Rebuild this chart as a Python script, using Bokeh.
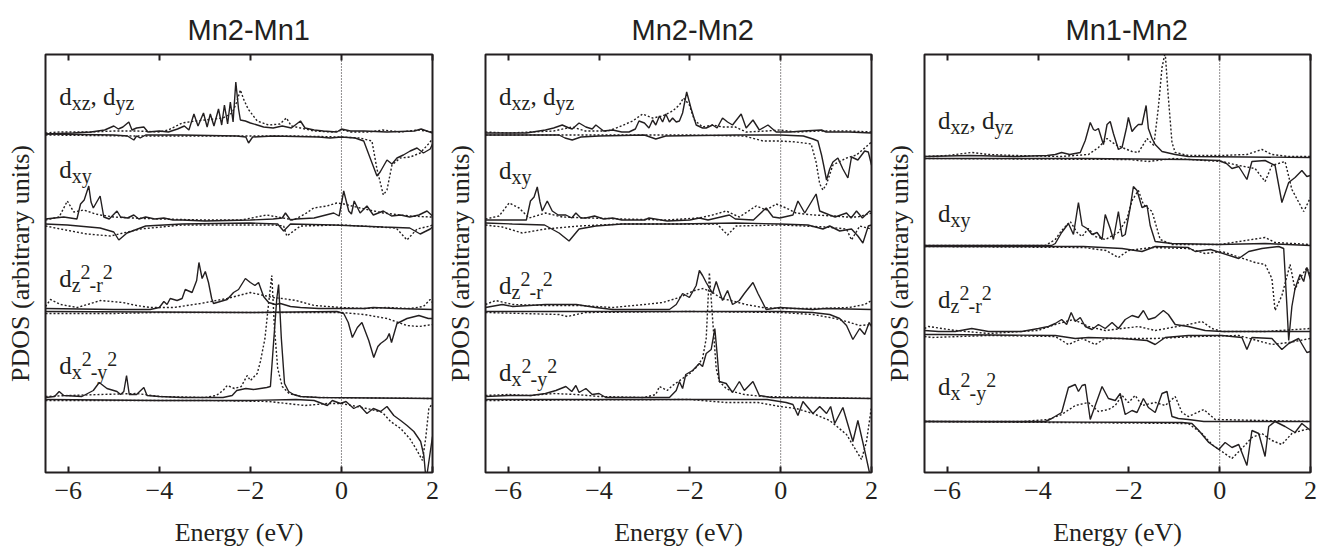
from bokeh.plotting import figure
from bokeh.models import Range1d, LinearAxis, FixedTicker, Span, Label
from bokeh.layouts import row
from bokeh.embed import file_html
from bokeh.resources import INLINE

INK = "#231f20"
TITLES = ["Mn2-Mn1", "Mn2-Mn2", "Mn1-Mn2"]
XTICKS = [-6, -4, -2, 0, 2]
X_LABEL = "Energy (eV)"
Y_LABEL = "PDOS (arbitrary units)"
ORBITALS = ["xz", "xy", "z2", "x2"]
# vertical offsets of each orbital block (arbitrary units)
OFFSETS_P1 = [338.5, 250.5, 162, 74]
OFFSETS_P2 = [338.5, 250.5, 162, 74]
OFFSETS_P3 = [315, 227, 139, 51]

# ---------------- Panel 1 : Mn2-Mn1 ----------------
P1_XZ_SU = [(-6.5,0),(-5.9,1),(-5.5,2),(-5.2,4),(-5.0,8),(-4.9,5),(-4.8,7),(-4.67,12),(-4.6,4),(-4.5,6),(-4.34,7),(-4.25,2),(-4.0,3),(-3.8,2),(-3.6,5),(-3.45,8),(-3.35,4),(-3.24,20),(-3.15,8),(-3.03,21),(-2.95,7),(-2.88,20),(-2.8,8),(-2.7,25),(-2.63,9),(-2.57,29),(-2.5,10),(-2.44,32),(-2.38,12),(-2.32,52),(-2.26,25),(-2.22,14),(-2.11,13),(-2.0,11),(-1.85,9),(-1.71,7),(-1.5,6),(-1.3,8),(-1.1,6),(-0.9,13),(-0.8,6),(-0.6,4),(-0.4,3),(-0.1,2),(0.0,5),(0.2,3),(0.5,3),(1.0,2),(1.6,3),(1.75,5),(2.0,1)]
P1_XZ_DU = [(-6.5,1),(-6.2,2),(-5.5,2),(-5.0,3),(-4.5,3),(-4.0,2),(-3.8,4),(-3.5,11),(-3.2,13),(-3.0,14),(-2.8,15),(-2.6,16),(-2.4,21),(-2.3,32),(-2.22,44),(-2.15,35),(-2.05,25),(-1.85,13),(-1.6,9),(-1.35,10),(-1.21,16),(-1.1,8),(-0.9,6),(-0.6,3),(-0.2,2),(0.05,4),(0.2,2),(0.6,2),(0.9,4),(1.3,2),(1.7,4),(2.0,2)]
P1_XZ_SD = [(-6.5,0),(-5.0,-1),(-4.7,-2),(-4.56,-6),(-4.5,-2),(-4.42,-4),(-4.3,-1),(-3.5,-1),(-2.3,-2),(-2.1,-3),(-2.04,-9),(-1.95,-3),(-1.5,-2),(-0.5,-3),(-0.25,-4),(0.0,-3),(0.3,-4),(0.49,-7),(0.63,-24),(0.78,-42),(0.85,-38),(1.0,-26),(1.11,-30),(1.22,-24),(1.36,-21),(1.51,-17),(1.66,-14),(1.8,-19),(1.95,-15),(2.0,-10)]
P1_XZ_DD = [(-6.5,-1),(-4.5,-2),(-3.0,-2),(-1.0,-2),(0.0,-3),(0.4,-4),(0.67,-7),(0.78,-35),(0.92,-61),(1.0,-56),(1.11,-31),(1.29,-24),(1.51,-23),(1.73,-19),(1.91,-10),(2.0,-5)]

P1_XY_SU = [(-6.5,3),(-6.3,4),(-6.1,5),(-5.81,3),(-5.73,18),(-5.65,22),(-5.55,36),(-5.5,20),(-5.45,14),(-5.3,26),(-5.22,5),(-5.1,3),(-4.93,11),(-4.85,5),(-4.7,4),(-4.56,7),(-4.45,3),(-4.3,5),(-4.1,3),(-3.9,4),(-3.7,2),(-3.5,2),(-3.0,1),(-2.0,2),(-1.5,3),(-1.3,4),(-1.23,9),(-1.12,2),(-1.0,3),(-0.6,4),(-0.17,9),(-0.05,6),(0.05,31),(0.16,11),(0.22,8),(0.28,21),(0.41,9),(0.56,16),(0.7,7),(0.92,11),(1.1,6),(1.3,7),(1.5,5),(1.7,7),(1.88,11),(2.0,6)]
P1_XY_DU = [(-6.5,2),(-6.2,5),(-6.02,21),(-5.88,10),(-5.66,12),(-5.4,8),(-5.29,7),(-5.0,5),(-4.6,4),(-4.0,3),(-3.0,2),(-2.2,2),(-1.64,7),(-1.4,5),(-1.05,2),(-0.8,8),(-0.61,14),(-0.32,16),(-0.1,19),(0.05,18),(0.41,14),(0.92,9),(1.5,6),(1.95,5),(2.0,5)]
P1_XY_SD = [(-6.5,-2),(-6.02,-3),(-5.3,-6),(-5.0,-10),(-4.89,-18),(-4.71,-11),(-4.3,-4),(-3.5,-2),(-2.0,-1),(-1.4,-2),(-1.27,-9),(-1.12,-2),(-0.17,-3),(0.92,-5),(1.5,-6),(1.73,-12),(1.95,-7),(2.0,-5)]
P1_XY_DD = [(-6.5,-4),(-6.17,-7),(-5.59,-12),(-5.07,-14),(-4.42,-7),(-3.5,-3),(-1.5,-3),(-1.27,-4),(-1.2,-14),(-0.9,-4),(0.0,-3),(1.2,-6),(1.44,-18),(1.66,-7),(1.95,-4),(2.0,-3)]

P1_Z2_SU = [(-6.5,2),(-5.0,1),(-4.2,1),(-4.0,3),(-3.9,9),(-3.83,6),(-3.76,12),(-3.61,10),(-3.5,12),(-3.43,21),(-3.28,18),(-3.18,30),(-3.13,48),(-3.06,32),(-2.99,39),(-2.92,28),(-2.85,12),(-2.81,7),(-2.66,9),(-2.51,11),(-2.37,18),(-2.26,21),(-2.11,32),(-2.0,28),(-1.9,25),(-1.82,28),(-1.71,14),(-1.6,8),(-1.45,6),(-1.34,7),(-1.12,4),(-0.9,3),(-0.5,2),(0.5,2),(0.7,3),(1.2,2),(2.0,1)]
P1_Z2_DU = [(-6.5,4),(-6.39,11),(-6.17,6),(-5.8,3),(-5.29,10),(-4.8,8),(-4.5,5),(-4.2,3),(-3.68,3),(-3.1,7),(-2.51,12),(-2.0,18),(-1.8,16),(-1.5,13),(-1.3,12),(-1.0,10),(-0.6,5),(0.0,3),(0.5,2),(1.0,3),(1.5,2),(1.8,4),(1.95,11),(2.0,8)]
P1_Z2_SD = [(-6.5,-1),(-2.0,-2),(-0.1,-1),(0.05,-3),(0.15,-12),(0.24,-27),(0.35,-17),(0.45,-12),(0.6,-30),(0.71,-47),(0.8,-36),(0.86,-33),(0.95,-30),(1.0,-28),(1.05,-23),(1.1,-32),(1.22,-13),(1.44,-8),(1.7,-5),(1.91,-8),(2.0,-8)]
P1_Z2_DD = [(-6.5,-3),(-5.0,-3),(-4.0,-2),(-2.0,-2),(0.0,-2),(0.5,-4),(1.0,-8),(1.44,-15),(1.7,-16),(2.0,-14)]

P1_X2_SU = [(-6.5,1),(-6.3,2),(-6.2,7),(-6.1,3),(-5.7,2),(-5.45,8),(-5.32,16),(-5.15,10),(-4.93,7),(-4.85,4),(-4.78,7),(-4.72,23),(-4.66,4),(-4.5,4),(-4.34,11),(-4.27,3),(-4.0,2),(-3.5,1),(-2.6,1),(-2.4,3),(-2.3,8),(-2.1,10),(-1.93,9),(-1.64,11),(-1.56,12),(-1.5,50),(-1.42,100),(-1.38,114),(-1.32,60),(-1.25,15),(-1.16,7),(-1.05,4),(-0.9,2),(-0.5,1),(2.0,0)]
P1_X2_DU = [(-6.5,2),(-6.0,3),(-5.3,4),(-4.5,5),(-4.0,2),(-3.0,1),(-2.75,3),(-2.6,8),(-2.51,13),(-2.35,10),(-2.2,12),(-2.07,23),(-2.0,18),(-1.85,25),(-1.78,37),(-1.68,60),(-1.6,95),(-1.53,123),(-1.47,70),(-1.4,30),(-1.3,12),(-1.15,5),(-0.9,2),(-0.5,1),(2.0,0)]
P1_X2_SD = [(-6.5,-1),(-4.0,-2),(-2.0,-2),(-1.0,-1),(-0.6,-2),(-0.31,-7),(-0.2,-2),(-0.02,-5),(0.1,-3),(0.27,-10),(0.4,-7),(0.56,-15),(0.7,-10),(0.86,-13),(1.0,-8),(1.15,-17),(1.3,-22),(1.44,-27),(1.59,-33),(1.74,-43),(1.81,-57),(1.86,-82),(1.93,-60),(2.0,-38)]
P1_X2_DD = [(-6.5,-2),(-3.0,-2),(-1.6,-3),(-1.2,-5),(-0.8,-7),(-0.3,-5),(0.0,-5),(0.56,-10),(0.9,-14),(1.08,-23),(1.3,-30),(1.5,-40),(1.66,-52),(1.78,-62),(1.85,-40),(1.92,-10),(2.0,-5)]

# ---------------- Panel 2 : Mn2-Mn2 ----------------
P2_XZ_SU = [(-6.5,1),(-5.6,1),(-5.18,4),(-5.0,6),(-4.81,9),(-4.66,6),(-4.59,5),(-4.44,11),(-4.29,7),(-4.15,5),(-4.07,9),(-3.9,3),(-3.7,4),(-3.5,2),(-3.34,2),(-3.2,5),(-3.12,13),(-3.0,11),(-2.9,6),(-2.82,14),(-2.75,9),(-2.67,18),(-2.6,12),(-2.53,20),(-2.45,12),(-2.38,16),(-2.3,12),(-2.23,13),(-2.16,21),(-2.07,42),(-1.97,25),(-1.86,9),(-1.72,6),(-1.64,6),(-1.5,9),(-1.4,6),(-1.28,16),(-1.17,12),(-1.06,9),(-0.87,20),(-0.76,6),(-0.61,14),(-0.47,4),(-0.28,9),(-0.1,2),(0.2,2),(0.5,3),(0.9,4),(1.0,2),(1.5,2),(2.0,1)]
P2_XZ_DU = [(-6.5,2),(-6.0,1),(-5.0,3),(-4.59,7),(-4.3,3),(-3.8,3),(-3.56,7),(-3.26,13),(-3.04,20),(-2.82,16),(-2.6,18),(-2.38,23),(-2.23,29),(-2.14,36),(-2.01,29),(-1.9,14),(-1.72,7),(-1.5,9),(-1.28,7),(-1.0,7),(-0.76,2),(-0.3,3),(-0.02,4),(0.34,2),(0.9,3),(1.5,3),(2.0,2)]
P2_XZ_SD = [(-6.5,-1),(-4.88,-1),(-4.75,-4),(-4.59,-6),(-4.4,-3),(-4.0,-2),(-3.0,-1),(-2.75,-5),(-2.53,-2),(-1.0,-1),(0.0,-1),(0.5,-2),(0.71,-5),(0.82,-7),(0.9,-21),(0.95,-32),(1.01,-46),(1.08,-35),(1.15,-28),(1.26,-24),(1.37,-35),(1.48,-44),(1.56,-23),(1.7,-26),(1.85,-17),(1.93,-18),(2.0,-31)]
P2_XZ_DD = [(-6.5,-1),(-2.0,-1),(-0.8,-2),(-0.39,-7),(-0.02,-7),(0.34,-8),(0.67,-10),(0.78,-28),(0.86,-50),(0.93,-56),(1.01,-50),(1.15,-31),(1.45,-24),(1.67,-21),(1.85,-14),(2.0,-8)]

P2_XY_SU = [(-6.5,2),(-5.6,2),(-5.51,21),(-5.43,25),(-5.36,35),(-5.3,20),(-5.25,11),(-5.14,21),(-5.03,11),(-4.9,7),(-4.73,7),(-4.6,4),(-4.51,9),(-4.4,4),(-4.29,4),(-4.1,6),(-3.9,3),(-3.7,4),(-3.5,2),(-3.0,2),(-2.9,4),(-2.5,1),(-2.0,2),(-1.79,4),(-1.6,2),(-1.13,7),(-1.0,3),(-0.6,2),(-0.32,14),(-0.17,5),(-0.02,4),(0.27,7),(0.38,21),(0.53,9),(0.78,28),(0.86,11),(1.08,7),(1.2,5),(1.45,9),(1.55,4),(1.67,11),(1.8,4),(1.96,11),(2.0,10)]
P2_XY_DU = [(-6.5,3),(-6.2,6),(-5.98,19),(-5.76,14),(-5.54,4),(-5.18,9),(-4.81,5),(-4.2,4),(-3.5,3),(-2.5,2),(-1.8,4),(-1.5,7),(-1.2,11),(-0.91,5),(-0.54,16),(-0.32,12),(-0.1,18),(0.12,14),(0.34,9),(0.71,7),(1.2,6),(1.45,5),(1.7,5),(2.0,9)]
P2_XY_SD = [(-6.5,-1),(-5.91,-2),(-5.2,-3),(-4.88,-11),(-4.66,-19),(-4.44,-7),(-4.07,-4),(-3.5,-2),(-2.23,-2),(-1.0,-1),(-0.02,-2),(0.6,-3),(0.93,-7),(1.08,-4),(1.3,-9),(1.56,-7),(1.7,-14),(1.81,-21),(1.93,-4),(2.0,-3)]
P2_XY_DD = [(-6.5,-3),(-6.13,-5),(-5.69,-11),(-5.18,-7),(-4.44,-4),(-3.5,-2),(-1.4,-2),(-1.17,-13),(-0.98,-4),(0.0,-3),(1.0,-5),(1.45,-7),(1.56,-18),(1.74,-4),(2.0,-7)]

P2_Z2_SU = [(-6.5,3),(-6.13,6),(-5.9,4),(-5.54,5),(-5.18,6),(-4.5,6),(-4.07,3),(-3.7,1),(-2.6,1),(-2.45,1),(-2.3,6),(-2.16,17),(-2.01,13),(-1.86,25),(-1.79,40),(-1.72,35),(-1.64,28),(-1.5,17),(-1.42,29),(-1.28,10),(-1.17,20),(-1.06,6),(-0.91,10),(-0.8,17),(-0.61,28),(-0.5,17),(-0.32,1),(-0.02,3),(0.7,1),(1.0,2),(2.0,1)]
P2_Z2_DU = [(-6.5,6),(-6.28,10),(-5.9,6),(-5.2,5),(-4.4,5),(-3.7,3),(-3.0,6),(-2.6,8),(-2.23,13),(-1.9,20),(-1.7,22),(-1.5,18),(-1.3,12),(-1.1,10),(-0.76,6),(-0.4,3),(0.0,2),(0.8,2),(1.5,3),(1.85,6),(2.0,10)]
P2_Z2_SD = [(-6.5,-1),(-4.0,-1),(-2.0,-1),(0.0,-1),(0.7,-2),(1.08,-4),(1.3,-8),(1.45,-15),(1.59,-29),(1.74,-18),(1.85,-24),(1.95,-12),(2.0,-16)]
P2_Z2_DD = [(-6.5,-2),(-4.88,-4),(-4.7,-6),(-4.3,-2),(-2.0,-1),(0.0,-2),(0.71,-4),(1.2,-8),(1.45,-11),(1.74,-15),(2.0,-14)]

P2_X2_SU = [(-6.5,2),(-6.0,3),(-5.5,3),(-5.18,5),(-4.95,8),(-4.73,12),(-4.6,7),(-4.51,13),(-4.44,6),(-4.29,10),(-4.15,4),(-4.0,5),(-3.85,1),(-3.0,1),(-2.45,1),(-2.3,8),(-2.23,17),(-2.16,10),(-2.09,24),(-1.94,28),(-1.79,35),(-1.72,32),(-1.64,45),(-1.53,49),(-1.45,70),(-1.4,45),(-1.35,17),(-1.2,15),(-1.06,6),(-0.91,17),(-0.8,8),(-0.61,17),(-0.47,3),(-0.2,1),(2.0,0)]
P2_X2_DU = [(-6.5,3),(-6.0,4),(-5.5,3),(-5.0,5),(-4.5,4),(-4.0,2),(-3.0,1),(-2.75,4),(-2.67,12),(-2.5,8),(-2.38,13),(-2.16,20),(-2.0,25),(-1.86,31),(-1.72,40),(-1.64,60),(-1.57,126),(-1.5,80),(-1.42,30),(-1.35,17),(-1.2,10),(-1.06,7),(-0.8,4),(-0.4,2),(2.0,0)]
P2_X2_SD = [(-6.5,-1),(-3.0,-1),(-1.0,-1),(-0.3,-1),(0.12,-4),(0.27,-6),(0.38,-17),(0.49,-3),(0.71,-15),(0.86,-8),(1.01,-15),(1.1,-8),(1.19,-25),(1.37,-9),(1.59,-43),(1.7,-22),(1.85,-52),(1.96,-75),(2.0,-80)]
P2_X2_DD = [(-6.5,-2),(-2.0,-1),(-1.2,-4),(-0.5,-4),(-0.02,-8),(0.34,-10),(0.71,-15),(1.08,-22),(1.45,-36),(1.78,-61),(1.89,-43),(2.0,-8)]

# ---------------- Panel 3 : Mn1-Mn2 ----------------
P3_XZ_SU = [(-6.5,1),(-5.5,2),(-4.5,1),(-3.8,2),(-3.62,3),(-3.48,5),(-3.3,3),(-3.07,5),(-2.96,17),(-2.85,35),(-2.78,28),(-2.74,27),(-2.67,29),(-2.56,13),(-2.48,33),(-2.41,36),(-2.34,24),(-2.23,8),(-2.15,10),(-2.05,30),(-2.01,40),(-1.93,26),(-1.86,30),(-1.79,33),(-1.71,33),(-1.62,52),(-1.57,29),(-1.49,19),(-1.42,13),(-1.27,6),(-0.98,3),(-0.69,1),(2.0,0)]
P3_XZ_DU = [(-6.5,1),(-6.0,2),(-5.46,5),(-5.09,3),(-4.5,2),(-3.5,1),(-2.89,3),(-2.67,10),(-2.48,19),(-2.3,13),(-2.15,10),(-1.93,6),(-1.79,5),(-1.6,19),(-1.45,12),(-1.35,50),(-1.27,90),(-1.2,105),(-1.13,60),(-1.05,15),(-0.98,5),(-0.69,2),(0.0,2),(0.6,3),(0.93,8),(1.15,3),(1.5,1),(2.0,1)]
P3_XZ_SD = [(-6.5,-1),(-3.0,-1),(-0.7,-2),(-0.02,-3),(0.15,-6),(0.27,-11),(0.42,-9),(0.6,-22),(0.71,-4),(1.0,-3),(1.22,-8),(1.37,-45),(1.52,-25),(1.66,-20),(1.81,-13),(1.92,-19),(2.0,-18)]
P3_XZ_DD = [(-6.5,-1),(-2.0,-2),(-1.57,-4),(-1.0,-1),(-0.32,-3),(0.05,-4),(0.42,-8),(0.78,-11),(1.0,-24),(1.15,-8),(1.44,-4),(1.59,-32),(1.85,-54),(2.0,-40)]

P3_XY_SU = [(-6.5,0),(-3.7,0),(-3.62,2),(-3.48,13),(-3.33,22),(-3.22,11),(-3.11,43),(-3.03,20),(-2.92,17),(-2.81,11),(-2.7,13),(-2.59,6),(-2.52,31),(-2.41,17),(-2.34,6),(-2.23,34),(-2.15,9),(-2.08,11),(-1.97,38),(-1.9,59),(-1.82,55),(-1.71,38),(-1.6,40),(-1.53,20),(-1.42,4),(-1.05,2),(0.0,1),(1.0,2),(2.0,0)]
P3_XY_DU = [(-6.5,0),(-3.84,0),(-3.62,6),(-3.48,15),(-3.29,24),(-3.14,13),(-3.03,9),(-2.89,17),(-2.74,9),(-2.52,6),(-2.23,13),(-2.04,27),(-1.93,45),(-1.79,55),(-1.68,41),(-1.49,34),(-1.31,6),(-1.05,1),(0.0,1),(1.0,8),(1.22,3),(2.0,1)]
P3_XY_SD = [(-6.5,-1),(-3.0,-1),(-2.15,-3),(-1.71,-6),(-1.42,-1),(-0.69,-2),(-0.54,-6),(-0.2,-4),(0.42,-13),(0.64,-6),(0.93,-3),(1.3,-1),(1.41,-3),(1.48,-60),(1.52,-95),(1.59,-61),(1.66,-43),(1.77,-29),(1.85,-36),(1.92,-22),(2.0,-34)]
P3_XY_DD = [(-6.5,-1),(-3.0,-2),(-2.5,-5),(-2.23,-12),(-2.01,-5),(-1.5,-2),(-0.69,-3),(-0.32,-8),(0.05,-6),(0.78,-17),(1.0,-19),(1.15,-33),(1.22,-65),(1.37,-50),(1.55,-19),(1.66,-44),(1.77,-33),(1.92,-22),(2.0,-30)]

P3_Z2_SU = [(-6.5,3),(-6.19,2),(-5.82,2),(-5.46,5),(-5.09,2),(-4.36,2),(-3.99,5),(-3.77,7),(-3.62,10),(-3.48,14),(-3.37,9),(-3.27,21),(-3.18,12),(-3.07,16),(-2.96,7),(-2.81,4),(-2.67,9),(-2.52,5),(-2.37,11),(-2.23,5),(-2.08,14),(-1.93,18),(-1.79,16),(-1.68,23),(-1.57,14),(-1.42,16),(-1.24,23),(-1.13,19),(-0.98,9),(-0.69,7),(-0.32,3),(0.05,2),(0.5,2),(1.0,2),(1.5,2),(2.0,2)]
P3_Z2_DU = [(-6.5,5),(-6.41,7),(-5.82,3),(-5.09,0),(-4.0,3),(-3.62,9),(-3.22,14),(-2.89,7),(-2.52,3),(-2.15,5),(-1.79,7),(-1.42,3),(-0.69,9),(-0.39,12),(-0.17,5),(0.05,2),(1.0,2),(2.0,5)]
P3_Z2_SD = [(-6.5,-1),(-6.19,-1),(-3.62,-2),(-3.18,-5),(-2.89,-4),(-2.15,-5),(-1.6,-7),(-1.42,-11),(-1.2,-4),(-0.69,-2),(0.05,-2),(0.49,-4),(0.6,-16),(0.71,-4),(1.15,-5),(1.37,-16),(1.52,-10),(1.74,-5),(1.92,-19),(2.0,-18)]
P3_Z2_DD = [(-6.5,-3),(-6.34,-4),(-5.09,-2),(-3.62,-3),(-3.33,-11),(-3.03,-5),(-2.74,-11),(-2.52,-5),(-1.42,-5),(-0.5,-3),(0.42,-2),(1.15,-11),(1.52,-9),(2.0,-5)]

P3_X2_SU = [(-6.5,0),(-3.84,0),(-3.7,3),(-3.48,9),(-3.33,34),(-3.18,37),(-3.11,30),(-3.03,36),(-2.96,37),(-2.85,2),(-2.74,16),(-2.59,35),(-2.45,23),(-2.3,21),(-2.19,28),(-2.08,7),(-1.93,11),(-1.82,9),(-1.68,23),(-1.57,14),(-1.42,9),(-1.27,28),(-1.16,30),(-1.05,5),(-0.91,3),(-0.69,2),(-0.35,0),(2.0,0)]
P3_X2_DU = [(-6.5,0),(-4.36,0),(-3.77,2),(-3.48,7),(-3.18,16),(-2.89,19),(-2.67,10),(-2.45,12),(-2.3,16),(-2.15,26),(-2.01,19),(-1.86,26),(-1.71,16),(-1.42,19),(-1.2,16),(-0.98,25),(-0.83,9),(-0.69,5),(-0.35,12),(-0.1,2),(2.0,0)]
P3_X2_SD = [(-6.5,0),(-0.83,-1),(-0.61,-2),(-0.46,-9),(-0.24,-21),(-0.02,-28),(0.12,-21),(0.27,-26),(0.42,-23),(0.6,-44),(0.71,-9),(0.86,-12),(1.0,-35),(1.08,-5),(1.22,0),(1.44,-5),(1.66,-11),(1.81,-2),(2.0,-9)]
P3_X2_DD = [(-6.5,0),(-0.69,-2),(-0.39,-12),(-0.17,-23),(0.05,-30),(0.27,-37),(0.49,-27),(0.71,-16),(0.93,-12),(1.15,-19),(1.37,-23),(1.59,-12),(1.81,-9),(2.0,-7)]

CURVES = [
    {"xz": (P1_XZ_SU, P1_XZ_SD, P1_XZ_DU, P1_XZ_DD), "xy": (P1_XY_SU, P1_XY_SD, P1_XY_DU, P1_XY_DD),
     "z2": (P1_Z2_SU, P1_Z2_SD, P1_Z2_DU, P1_Z2_DD), "x2": (P1_X2_SU, P1_X2_SD, P1_X2_DU, P1_X2_DD)},
    {"xz": (P2_XZ_SU, P2_XZ_SD, P2_XZ_DU, P2_XZ_DD), "xy": (P2_XY_SU, P2_XY_SD, P2_XY_DU, P2_XY_DD),
     "z2": (P2_Z2_SU, P2_Z2_SD, P2_Z2_DU, P2_Z2_DD), "x2": (P2_X2_SU, P2_X2_SD, P2_X2_DU, P2_X2_DD)},
    {"xz": (P3_XZ_SU, P3_XZ_SD, P3_XZ_DU, P3_XZ_DD), "xy": (P3_XY_SU, P3_XY_SD, P3_XY_DU, P3_XY_DD),
     "z2": (P3_Z2_SU, P3_Z2_SD, P3_Z2_DU, P3_Z2_DD), "x2": (P3_X2_SU, P3_X2_SD, P3_X2_DU, P3_X2_DD)},
]
OFFSETS = [OFFSETS_P1, OFFSETS_P2, OFFSETS_P3]

# orbital labels: pieces (text, kind)
LABELS = {
    "xz": [("d", "n"), ("xz", "sub"), (", d", "n"), ("yz", "sub")],
    "xy": [("d", "n"), ("xy", "sub")],
    "z2": [("d", "n"), ("z", "sub"), ("2", "sup"), ("-r", "sub"), ("2", "sup")],
    "x2": [("d", "n"), ("x", "sub"), ("2", "sup"), ("-y", "sub"), ("2", "sup")],
}
# label anchor (energy, y) per panel
LABEL_POS = [
    [(-6.2, 376), (-6.2, 303), (-6.2, 194), (-6.2, 107)],
    [(-6.2, 376), (-6.2, 302), (-6.2, 187), (-6.2, 100)],
    [(-6.2, 352), (-6.2, 259), (-6.2, 173), (-6.2, 86)],
]

SERIF = "Liberation Serif"
W = {"d": 0.5, "x": 0.5, "y": 0.5, "z": 0.444, ",": 0.25, " ": 0.25, "2": 0.5, "-": 0.333, "r": 0.333}
MAIN_FS, SUB_FS = 25, 20

FIG_W = [442, 439, 439]
BORDER_L = [45, 42, 43]
BORDER_R = [10, 10, 10]
FIG_H = 552
BORDER_T, BORDER_B = 54, 80
TITLE_SHIFT = [142, 146, 141]   # px from frame left to title start

figs = []
for i in range(3):
    p = figure(width=FIG_W[i], height=FIG_H, output_backend="svg", toolbar_location=None,
               x_range=Range1d(-6.5, 2.0), y_range=Range1d(0, 418),
               min_border_left=BORDER_L[i], min_border_right=BORDER_R[i],
               min_border_top=BORDER_T, min_border_bottom=BORDER_B,
               background_fill_color="white", border_fill_color="white")
    p.grid.visible = False
    p.outline_line_color = INK
    p.outline_line_width = 2
    p.title.text = TITLES[i]
    p.title.align = "left"
    p.title.text_font = "Liberation Sans"
    p.title.text_font_style = "normal"
    p.title.text_font_size = "29px"
    p.title.text_color = INK
    p.title.offset = TITLE_SHIFT[i]
    p.title.standoff = 18

    xa = p.xaxis[0]
    xa.ticker = FixedTicker(ticks=XTICKS)
    xa.axis_label = X_LABEL
    xa.axis_label_text_font = SERIF
    xa.axis_label_text_font_style = "normal"
    xa.axis_label_text_font_size = "26px"
    xa.axis_label_text_color = INK
    xa.axis_label_standoff = 16
    xa.major_label_text_font = SERIF
    xa.major_label_text_font_size = "26px"
    xa.major_label_text_color = INK
    xa.major_label_standoff = 9
    xa.major_tick_in = 6
    xa.major_tick_out = 0
    xa.major_tick_line_width = 2
    xa.major_tick_line_color = INK
    xa.minor_tick_line_color = None
    xa.axis_line_color = None

    top = LinearAxis(ticker=FixedTicker(ticks=XTICKS), major_label_text_font_size="1px",
                     major_label_text_color=None,
                     major_tick_in=6, major_tick_out=0, major_tick_line_width=2,
                     major_tick_line_color=INK, minor_tick_line_color=None,
                     axis_line_color=None, major_label_standoff=0)
    p.add_layout(top, "above")

    ya = p.yaxis[0]
    ya.ticker = FixedTicker(ticks=[])
    ya.axis_label = Y_LABEL
    ya.axis_label_text_font = SERIF
    ya.axis_label_text_font_style = "normal"
    ya.axis_label_text_font_size = "26px"
    ya.axis_label_text_color = INK
    ya.axis_label_standoff = 11
    ya.major_label_text_color = None
    ya.major_tick_line_color = None
    ya.minor_tick_line_color = None
    ya.axis_line_color = None

    p.add_layout(Span(location=0, dimension="height", line_color=INK, line_width=1,
                      line_dash="1 2"))

    for k, orb in enumerate(ORBITALS):
        base = OFFSETS[i][k]
        su, sd, du, dd = CURVES[i][orb]
        for pts, dash in ((du, "2 2"), (dd, "2 2"), (su, "solid"), (sd, "solid")):
            p.line([e for e, h in pts], [base + h for e, h in pts], line_color=INK,
                   line_width=1.4, line_dash=dash)

        ex, ey = LABEL_POS[i][k]
        off = 0.0
        for txt, kind in LABELS[orb]:
            fs = MAIN_FS if kind == "n" else SUB_FS
            dy = 0 if kind == "n" else (-6 if kind == "sub" else 7)
            p.add_layout(Label(x=ex, y=ey, x_offset=off, y_offset=dy, text=txt,
                               text_font=SERIF, text_font_size=f"{fs}px", text_color=INK,
                               text_baseline="alphabetic"))
            if kind != "sup":
                off += sum(W.get(c, 0.5) for c in txt) * fs
            else:
                off += sum(W.get(c, 0.5) for c in txt) * fs * 0.9
    figs.append(p)

layout = row(*figs)
open("out.html", "w").write(file_html(layout, INLINE))
